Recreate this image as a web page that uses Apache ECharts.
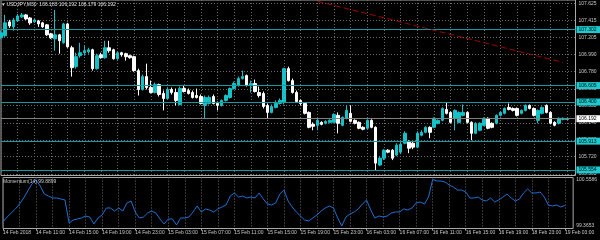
<!DOCTYPE html>
<html><head><meta charset="utf-8">
<script src="https://cdn.jsdelivr.net/npm/echarts@6/dist/echarts.min.js"></script>
<style>html,body{margin:0;padding:0;background:#000;}#c{width:600px;height:240px;}</style>
</head><body><div id="c"></div>
<script>
const symbolName = 'USDJPY,M30';
const indicatorName = 'Momentum(14)';
const opens = [107.200,107.225,107.398,107.336,107.410,107.460,107.485,107.447,107.398,107.410,107.386,107.361,107.249,107.187,107.237,107.138,107.373,107.076,106.841,106.977,107.014,107.026,107.051,106.816,106.989,106.952,107.076,107.051,106.940,107.014,107.002,106.977,106.965,106.791,106.556,106.717,106.581,106.519,106.618,106.506,106.444,106.556,106.519,106.370,106.568,106.543,106.519,106.481,106.469,106.358,106.382,106.469,106.382,106.358,106.420,106.457,106.568,106.605,106.692,106.729,106.605,106.630,106.519,106.506,106.358,106.271,106.333,106.382,106.395,106.816,106.667,106.519,106.420,106.382,106.271,106.122,106.110,106.147,106.135,106.147,106.147,106.234,106.110,106.197,106.259,106.172,106.147,106.085,106.073,106.172,106.085,105.615,105.701,105.800,105.800,105.739,105.776,105.887,105.900,105.887,105.838,105.986,106.023,106.085,106.085,106.135,106.172,106.308,106.271,106.197,106.147,106.234,106.271,106.147,106.011,106.048,106.110,106.197,106.135,106.135,106.234,106.259,106.333,106.320,106.320,106.259,106.296,106.358,106.320,106.172,106.259,106.358,106.271,106.147,106.135,106.184,106.183];
const highs = [107.287,107.485,107.423,107.447,107.497,107.509,107.497,107.460,107.435,107.423,107.398,107.373,107.262,107.547,107.249,107.386,107.386,107.101,107.014,107.138,107.101,107.076,107.064,107.002,107.014,107.163,107.163,107.064,107.026,107.026,107.014,106.989,106.977,106.816,106.742,106.878,106.667,106.642,106.630,106.543,106.581,106.581,106.568,106.593,106.605,106.568,106.543,106.568,106.494,106.481,106.481,106.494,106.407,106.432,106.494,106.581,106.655,106.717,106.791,106.742,106.667,106.680,106.593,106.531,106.382,106.370,106.420,106.444,106.828,106.841,106.692,106.543,106.432,106.395,106.283,106.147,106.197,106.160,106.172,106.184,106.259,106.271,106.221,106.358,106.358,106.184,106.160,106.098,106.184,106.184,106.098,105.726,105.813,105.813,105.813,105.887,105.900,106.036,105.924,105.912,106.036,106.048,106.098,106.098,106.209,106.184,106.333,106.395,106.283,106.308,106.283,106.370,106.283,106.160,106.147,106.147,106.209,106.209,106.147,106.246,106.283,106.333,106.382,106.333,106.333,106.308,106.370,106.370,106.333,106.308,106.345,106.370,106.283,106.160,106.209,106.209,106.192];
const lows = [107.187,107.212,107.324,107.287,107.398,107.447,107.423,107.361,107.386,107.336,107.324,107.225,107.187,107.039,107.002,107.126,107.076,106.717,106.816,106.952,106.977,107.002,106.791,106.803,106.940,106.940,107.014,106.927,106.927,106.965,106.915,106.940,106.779,106.481,106.543,106.556,106.506,106.506,106.469,106.296,106.432,106.494,106.358,106.358,106.519,106.494,106.444,106.444,106.370,106.197,106.370,106.370,106.296,106.345,106.407,106.444,106.556,106.593,106.680,106.593,106.519,106.519,106.457,106.320,106.197,106.259,106.320,106.370,106.370,106.655,106.506,106.395,106.358,106.246,106.073,106.048,106.048,106.110,106.122,106.135,106.135,106.011,106.098,106.184,106.147,106.122,106.061,106.048,106.061,106.073,105.553,105.602,105.677,105.763,105.677,105.726,105.751,105.875,105.763,105.813,105.825,105.974,106.011,105.949,106.073,106.122,106.160,106.246,106.135,106.048,106.135,106.221,106.135,105.924,105.999,106.036,106.098,106.061,106.073,106.122,106.221,106.246,106.296,106.283,106.221,106.246,106.283,106.308,106.221,106.135,106.246,106.259,106.122,106.098,106.122,106.172,106.179];
const closes = [107.262,107.386,107.348,107.423,107.472,107.485,107.435,107.386,107.423,107.373,107.336,107.237,107.200,107.237,107.163,107.373,107.088,106.828,106.965,107.014,107.039,107.051,106.816,106.977,106.952,107.076,107.039,106.940,107.014,106.989,106.965,106.952,106.791,106.556,106.717,106.581,106.519,106.618,106.494,106.444,106.556,106.519,106.420,106.568,106.531,106.506,106.457,106.457,106.382,106.457,106.457,106.382,106.358,106.420,106.481,106.568,106.630,106.692,106.717,106.605,106.630,106.531,106.481,106.345,106.271,106.345,106.382,106.420,106.816,106.667,106.519,106.407,106.382,106.259,106.085,106.098,106.172,106.122,106.160,106.172,106.246,106.135,106.209,106.296,106.160,106.135,106.073,106.061,106.172,106.085,105.639,105.701,105.800,105.776,105.701,105.862,105.875,106.011,105.825,105.838,106.011,106.023,106.085,106.023,106.197,106.172,106.320,106.259,106.147,106.296,106.271,106.271,106.147,106.011,106.135,106.135,106.197,106.073,106.085,106.234,106.271,106.320,106.308,106.296,106.234,106.296,106.358,106.320,106.234,106.296,106.333,106.271,106.135,106.110,106.197,106.197,106.192];
const momentum = [99.468,99.596,99.699,99.802,99.930,100.084,100.264,100.443,100.546,100.392,100.186,100.135,100.084,100.084,100.058,100.033,99.442,99.519,99.545,99.571,99.622,99.596,99.417,99.571,99.648,99.827,99.827,99.750,99.827,99.750,99.956,100.007,99.725,99.571,99.596,99.699,99.750,99.699,99.545,99.417,99.545,99.545,99.391,99.571,99.571,99.596,99.725,99.879,99.725,99.802,99.776,99.725,99.802,99.853,99.904,100.135,100.212,100.109,100.135,100.084,100.109,100.084,100.212,100.058,99.930,99.904,99.956,100.186,100.289,100.007,99.853,99.725,99.622,99.519,99.494,99.571,99.648,99.750,99.827,99.879,99.827,99.571,99.3653,99.596,99.673,99.725,99.802,99.930,100.033,99.776,99.571,99.622,99.596,99.622,99.699,99.725,99.725,99.802,99.776,99.827,99.956,99.981,99.930,100.109,100.5586,100.520,100.520,100.494,100.417,100.366,100.289,100.289,100.238,100.084,100.084,100.109,100.033,100.007,100.084,99.981,100.033,100.109,100.186,100.084,100.007,100.058,100.212,100.315,100.212,100.212,100.238,100.109,99.904,99.879,99.904,99.853,99.8899];
const priceTicks = [107.625,107.415,107.205,106.990,106.780,106.565,106.355,106.140,105.930,105.720,105.505];
const levelPrices = [107.302,106.605,106.400,105.913,105.554];
const bidPrice = 106.192;
const momentumTicks = [99.3653,100.5586];
const trendLine = [[76,107.655],[135,106.894]];
// sessions: [start (UTC ms), number of half-hour slots]
const sessions = [[Date.UTC(2018,1,14,7,0),128],[Date.UTC(2018,1,18,23,0),11]];

const MONTHS=['Jan','Feb','Mar','Apr','May','Jun','Jul','Aug','Sep','Oct','Nov','Dec'];
const times=[];
sessions.forEach(([s,n])=>{for(let k=0;k<n;k++)times.push(new Date(s+k*1800000));});
const p2=v=>String(v).padStart(2,'0');
const cats=times.map((d,i)=> i===0 ? d.getUTCDate()+' '+MONTHS[d.getUTCMonth()]+' '+d.getUTCFullYear()
  : d.getUTCDate()+' '+MONTHS[d.getUTCMonth()]+' '+p2(d.getUTCHours())+':'+p2(d.getUTCMinutes()));

const candles=opens.map((o,i)=>[o,closes[i],lows[i],highs[i]]);
const last=opens.length-1;
const FONT='Liberation Sans';
const TXT='#c8c8c8';
const GRIDC='#6a6a6a';
const BULL='#14c2c8', BEAR='#ffffff';
const LEVEL='#179a9c', LEVELBOX='#1ccbd0';

const chart=echarts.init(document.getElementById('c'),null,{renderer:'canvas'});
const levelLines=levelPrices.map(p=>({yAxis:p,
  lineStyle:{color:LEVEL,width:1,type:'solid'},
  label:{show:true,position:'end',distance:1,formatter:p.toFixed(3),color:'#000',backgroundColor:LEVELBOX,
    fontSize:5,fontFamily:FONT,padding:[1,4,1,2]}}));
const bidLine={yAxis:bidPrice,lineStyle:{color:'#808080',width:1,type:'solid'},
  label:{show:true,position:'end',distance:1,formatter:bidPrice.toFixed(3),color:'#000',backgroundColor:'#ffffff',
    fontSize:5,fontFamily:FONT,padding:[1,4,1,2]}};
const trend=[{coord:trendLine[0]},{coord:trendLine[1],
  lineStyle:{color:'#a00000',width:1,type:[6,3]},label:{show:false}}];

chart.setOption({
  animation:false,
  backgroundColor:'#000',
  title:[
    {text:'\u25BE '+symbolName+'  '+[opens[last],highs[last],lows[last],closes[last]].map(v=>v.toFixed(3)).join(' '),
      left:2,top:2,padding:0,textStyle:{color:'#e0e0e0',fontSize:5,fontWeight:'normal',fontFamily:FONT}},
    {text:indicatorName+' '+momentum[last].toFixed(4),left:3,top:179,padding:0,
      textStyle:{color:TXT,fontSize:5,fontWeight:'normal',fontFamily:FONT}}
  ],
  grid:[
    {left:1,top:-1,width:574.5,height:176.5,show:true,borderColor:'#a8a8a8',borderWidth:1,backgroundColor:'transparent'},
    {left:1,top:177.5,width:574.5,height:51,show:true,borderColor:'#a8a8a8',borderWidth:1,backgroundColor:'transparent'}
  ],
  xAxis:[
    {type:'category',gridIndex:0,data:cats,boundaryGap:false,axisLine:{show:false},axisTick:{show:false},axisLabel:{show:false},
      splitLine:{show:true,interval:3,lineStyle:{color:GRIDC,type:[1,2],width:1}}},
    {type:'category',gridIndex:1,data:cats,boundaryGap:false,axisLine:{show:false},
      axisTick:{show:true,interval:7,length:2,lineStyle:{color:'#a8a8a8'}},
      axisLabel:{show:true,interval:7,align:'left',margin:2,color:TXT,fontSize:5,fontFamily:FONT},
      splitLine:{show:true,interval:3,lineStyle:{color:GRIDC,type:[1,2],width:1}}}
  ],
  yAxis:[
    {type:'value',gridIndex:0,position:'right',min:105.485,max:107.6708,scale:true,
      axisLine:{show:false},axisTick:{show:false,customValues:priceTicks},
      axisLabel:{show:true,customValues:priceTicks,margin:3,color:TXT,fontSize:5,fontFamily:FONT,formatter:v=>v.toFixed(3)},
      splitLine:{show:true,lineStyle:{color:GRIDC,type:[1,2],width:1}}},
    {type:'value',gridIndex:1,position:'right',min:99.301,max:100.610,scale:true,
      axisLine:{show:false},axisTick:{show:false,customValues:momentumTicks},
      axisLabel:{show:true,customValues:momentumTicks,margin:3,color:TXT,fontSize:5,fontFamily:FONT,formatter:v=>v.toFixed(4)},
      splitLine:{show:false}}
  ],
  series:[
    {type:'candlestick',xAxisIndex:0,yAxisIndex:0,data:candles,barWidth:3,
      itemStyle:{color:BULL,color0:BEAR,borderColor:BULL,borderColor0:BEAR,borderWidth:1},
      markLine:{silent:true,animation:false,precision:3,symbol:['none','none'],symbolSize:0,
        data:[...levelLines,bidLine,trend]}},
    {type:'line',xAxisIndex:1,yAxisIndex:1,data:momentum,showSymbol:false,symbol:'none',
      lineStyle:{color:'#1f6fd2',width:1}}
  ]
});
</script></body></html>
